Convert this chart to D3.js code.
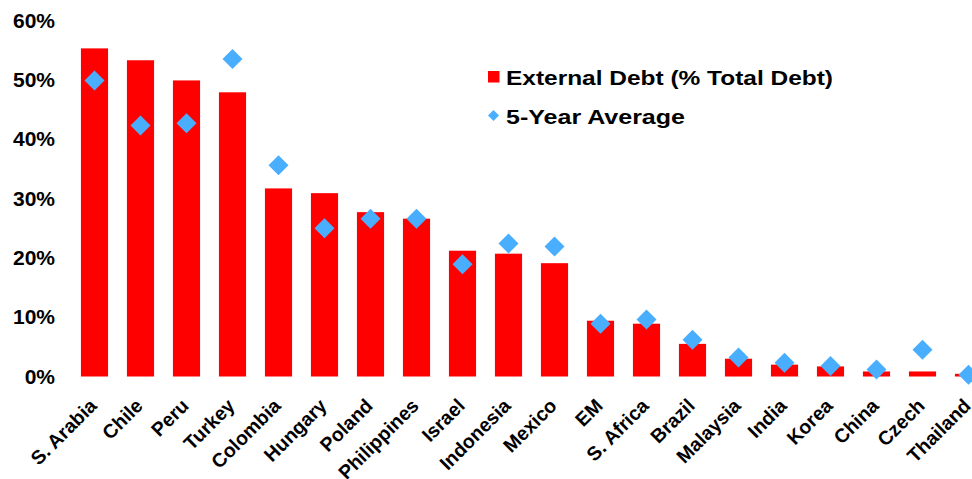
<!DOCTYPE html>
<html>
<head>
<meta charset="utf-8">
<script src="https://cdn.jsdelivr.net/npm/d3@7"></script>
<style>
  html, body { margin: 0; padding: 0; background: #fff; }
  svg { display: block; font-family: "Liberation Sans", Arial, sans-serif; }
</style>
</head>
<body>
<svg id="chart" width="972" height="479"></svg>
<script>
// External debt share of total debt, by country (%)
const countries = ["S. Arabia", "Chile", "Peru", "Turkey", "Colombia", "Hungary", "Poland",
  "Philippines", "Israel", "Indonesia", "Mexico", "EM", "S. Africa", "Brazil", "Malaysia",
  "India", "Korea", "China", "Czech", "Thailand"];
const externalDebt = [55.3, 53.3, 49.9, 47.9, 31.7, 30.9, 27.7, 26.6, 21.2, 20.7, 19.1,
  9.4, 8.9, 5.5, 3.0, 2.0, 1.7, 0.85, 0.85, 0.45];
const fiveYearAvg = [49.9, 42.3, 42.7, 53.5, 35.6, 25.0, 26.6, 26.6, 18.9, 22.4, 21.9,
  8.9, 9.6, 6.2, 3.2, 2.3, 1.75, 1.2, 4.5, 0.3];
const yTicks = [0, 10, 20, 30, 40, 50, 60];
const seriesNames = ["External Debt (% Total Debt)", "5-Year Average"];

const RED = "#ff0000";
const BLUE = "#4aaeff";
const FONT = "'Liberation Sans', Arial, sans-serif";

const svg = d3.select("#chart");

const x = d3.scaleBand()
  .domain(countries)
  .range([71.5, 991.5])
  .paddingInner(0.41)
  .paddingOuter(0.205);

const y = d3.scaleLinear().domain([0, 60]).range([376.5, 20.5]);

// Y axis labels only (no axis line / ticks)
const yAxis = d3.axisLeft(y).tickValues(yTicks).tickFormat(d => d + "%").tickSize(0).tickPadding(0);
const yg = svg.append("g").attr("transform", "translate(55,0)").call(yAxis);
yg.select(".domain").remove();
yg.selectAll("text")
  .attr("font-family", FONT)
  .attr("font-size", 21)
  .attr("font-weight", "bold")
  .attr("fill", "#000");

// Bars
svg.append("g").selectAll("rect")
  .data(countries)
  .join("rect")
  .attr("x", d => x(d))
  .attr("width", x.bandwidth())
  .attr("y", (d, i) => y(externalDebt[i]))
  .attr("height", (d, i) => y(0) - y(externalDebt[i]))
  .attr("fill", RED);

// Diamonds for 5-year average
const diamond = d3.symbol().type(d3.symbolSquare).size(200);
svg.append("g").selectAll("path")
  .data(countries)
  .join("path")
  .attr("d", diamond)
  .attr("transform", (d, i) => `translate(${x(d) + x.bandwidth() / 2},${y(fiveYearAvg[i])}) rotate(45)`)
  .attr("fill", BLUE);

// X axis labels, rotated
const xAxis = d3.axisBottom(x).tickSize(0).tickPadding(0);
const xg = svg.append("g").attr("transform", "translate(0,386)").call(xAxis);
xg.select(".domain").remove();
xg.selectAll("text")
  .attr("font-family", FONT)
  .attr("font-size", 19.5)
  .attr("font-weight", "bold")
  .attr("fill", "#000")
  .attr("text-anchor", "end")
  .attr("y", 0)
  .attr("dy", 0)
  .attr("transform", "translate(3.5,21) rotate(-45)");

// Legend
const legend = svg.append("g");
legend.append("rect").attr("x", 488).attr("y", 71).attr("width", 11.5).attr("height", 11.5).attr("fill", RED);
legend.append("path")
  .attr("d", d3.symbol().type(d3.symbolSquare).size(60))
  .attr("transform", "translate(493.5,115.5) rotate(45)")
  .attr("fill", BLUE);
const legendWidths = [327, 179];
legend.selectAll("text")
  .data(seriesNames)
  .join("text")
  .attr("x", 506)
  .attr("y", (d, i) => 85 + i * 38.5)
  .attr("font-size", 21)
  .attr("font-weight", "bold")
  .attr("fill", "#000")
  .attr("textLength", (d, i) => legendWidths[i])
  .attr("lengthAdjust", "spacingAndGlyphs")
  .text(d => d);
</script>
</body>
</html>
